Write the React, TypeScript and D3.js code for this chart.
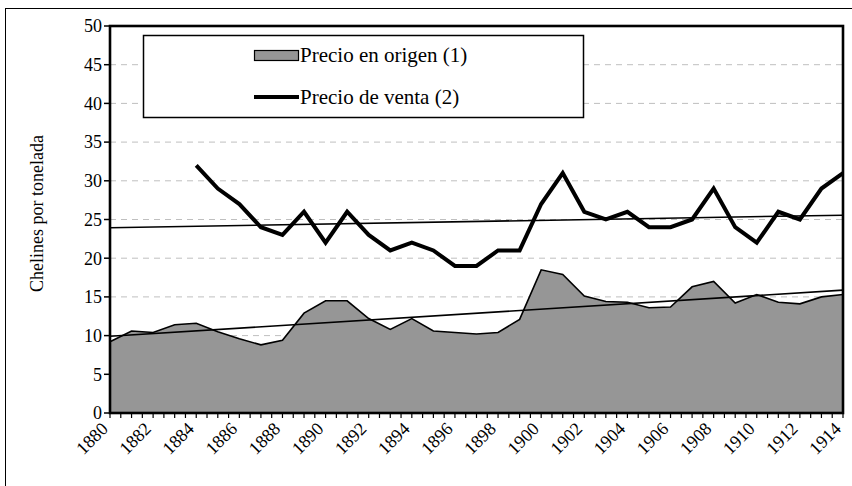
import React, { useMemo } from "react";
import * as d3 from "d3";

const WIDTH = 852;
const HEIGHT = 486;
const MARGIN = { top: 26, right: 9, bottom: 73, left: 110 };
const FONT = "Liberation Serif, DejaVu Serif, serif";

// categories
const years = [
    1880, 1881, 1882, 1883, 1884, 1885, 1886, 1887, 1888, 1889,
    1890, 1891, 1892, 1893, 1894, 1895, 1896, 1897, 1898, 1899,
    1900, 1901, 1902, 1903, 1904, 1905, 1906, 1907, 1908, 1909,
    1910, 1911, 1912, 1913, 1914,
];

// (1) Precio en origen
const precioOrigen = [
    9.2, 10.6, 10.4, 11.4, 11.6, 10.5, 9.6, 8.8, 9.4, 12.9,
    14.5, 14.5, 12.2, 10.8, 12.2, 10.6, 10.4, 10.2, 10.4, 12.1,
    18.5, 17.9, 15.1, 14.4, 14.3, 13.6, 13.7, 16.3, 17.0, 14.2,
    15.3, 14.3, 14.1, 15.0, 15.3,
];

// (2) Precio de venta (sin datos antes de 1884)
const precioVenta: (number | null)[] = [
    null, null, null, null, 32, 29, 27, 24, 23, 26,
    22, 26, 23, 21, 22, 21, 19, 19, 21, 21,
    27, 31, 26, 25, 26, 24, 24, 25, 29, 24,
    22, 26, 25, 29, 31,
];

const yTicks = [0, 5, 10, 15, 20, 25, 30, 35, 40, 45, 50];
const xLabels = [1880, 1882, 1884, 1886, 1888, 1890, 1892, 1894, 1896, 1898,
    1900, 1902, 1904, 1906, 1908, 1910, 1912, 1914];

const yTitle = "Chelines por tonelada";
const legendLabels = ["Precio en origen (1)", "Precio de venta (2)"];

// least squares on category index, like a spreadsheet trendline
const linearFit = (values: (number | null)[]) => {
    const pts = values
        .map((v, i) => ({ i, v }))
        .filter((p) => p.v !== null) as { i: number; v: number }[];
    const mx = d3.mean(pts, (p) => p.i) ?? 0;
    const my = d3.mean(pts, (p) => p.v) ?? 0;
    const sxy = d3.sum(pts, (p) => (p.i - mx) * (p.v - my));
    const sxx = d3.sum(pts, (p) => (p.i - mx) ** 2);
    const slope = sxy / sxx;
    return (i: number) => my + slope * (i - mx);
};

export default function App() {
    const boundsWidth = WIDTH - MARGIN.left - MARGIN.right;
    const boundsHeight = HEIGHT - MARGIN.top - MARGIN.bottom;

    const xScale = useMemo(() => d3.scalePoint<number>()
        .domain(years)
        .range([0, boundsWidth]), [boundsWidth]);
    const yScale = useMemo(() => d3.scaleLinear()
        .domain([0, 50])
        .range([boundsHeight, 0]), [boundsHeight]);

    const step = xScale.step();

    const areaPath = d3.area<number>()
        .x((_, i) => xScale(years[i]) ?? 0)
        .y0(yScale(0))
        .y1((d) => yScale(d))(precioOrigen) ?? "";
    const areaTop = d3.line<number>()
        .x((_, i) => xScale(years[i]) ?? 0)
        .y((d) => yScale(d))(precioOrigen) ?? "";
    const ventaPath = d3.line<number | null>()
        .defined((d) => d !== null)
        .x((_, i) => xScale(years[i]) ?? 0)
        .y((d) => yScale(d as number))(precioVenta) ?? "";

    const fitOrigen = linearFit(precioOrigen);
    const fitVenta = linearFit(precioVenta);
    const last = years.length - 1;

    // minor ticks every half year along the bottom axis
    const halfTicks = d3.range(0, years.length * 2 - 1).map((k) => k * step / 2);

    const txt = { fontFamily: FONT, fill: "#000" };

    return (
        <svg width={WIDTH} height={HEIGHT}
            style={{ position: "absolute", left: 0, top: 0, background: "#fff" }}>
            {/* outer frame */}
            <rect x={5.5} y={8.5} width={WIDTH} height={HEIGHT} fill="none" stroke="#000" strokeWidth={1} />

            <text transform={`translate(43,${MARGIN.top + boundsHeight / 2 - 6}) rotate(-90)`}
                textAnchor="middle" style={{ ...txt, fontSize: 18 }}>{yTitle}</text>

            <g transform={`translate(${MARGIN.left},${MARGIN.top})`}>
                {/* grid */}
                {yTicks.filter((t) => t > 0 && t < 50).map((t) => (
                    <line key={t} x1={0} x2={boundsWidth} y1={yScale(t)} y2={yScale(t)}
                        stroke="#bfbfbf" strokeWidth={1} strokeDasharray="6,5" />
                ))}

                <path d={areaPath} fill="#969696" stroke="none" />
                <path d={areaTop} fill="none" stroke="#000" strokeWidth={1.6} />
                <path d={ventaPath} fill="none" stroke="#000" strokeWidth={4} strokeLinejoin="miter" />

                {/* trend lines */}
                <line x1={xScale(years[0])} x2={xScale(years[last])}
                    y1={yScale(fitOrigen(0))} y2={yScale(fitOrigen(last))}
                    stroke="#000" strokeWidth={1.6} />
                <line x1={xScale(years[0])} x2={xScale(years[last])}
                    y1={yScale(fitVenta(0))} y2={yScale(fitVenta(last))}
                    stroke="#000" strokeWidth={1.6} />

                {/* y axis */}
                {yTicks.map((t) => (
                    <g key={t} transform={`translate(0,${yScale(t)})`}>
                        <line x1={-6} x2={0} stroke="#000" strokeWidth={1.5} />
                        <text x={-8} dy="0.35em" textAnchor="end" style={{ ...txt, fontSize: 18 }}>{t}</text>
                    </g>
                ))}

                {/* x axis */}
                {halfTicks.map((x, k) => (
                    <line key={k} x1={x} x2={x} y1={boundsHeight} y2={boundsHeight + 5}
                        stroke="#000" strokeWidth={1.2} />
                ))}
                {xLabels.map((yr) => (
                    <text key={yr}
                        transform={`translate(${(xScale(yr) ?? 0) - 1},${boundsHeight + 17}) rotate(-45)`}
                        textAnchor="end" style={{ ...txt, fontSize: 18 }}>{yr}</text>
                ))}

                {/* plot frame */}
                <rect x={0} y={0} width={boundsWidth} height={boundsHeight}
                    fill="none" stroke="#000" strokeWidth={2.6} />
            </g>

            {/* legend */}
            <g>
                <rect x={143.5} y={35.5} width={440} height={82} fill="#fff" stroke="#000" strokeWidth={1.5} />
                <rect x={254.5} y={50.5} width={44} height={10} fill="#969696" stroke="#000" strokeWidth={1.2} />
                <text x={300} y={62} style={{ ...txt, fontSize: 21 }}>{legendLabels[0]}</text>
                <line x1={254} x2={299} y1={97} y2={97} stroke="#000" strokeWidth={4} />
                <text x={300} y={104} style={{ ...txt, fontSize: 21 }}>{legendLabels[1]}</text>
            </g>
        </svg>
    );
}
